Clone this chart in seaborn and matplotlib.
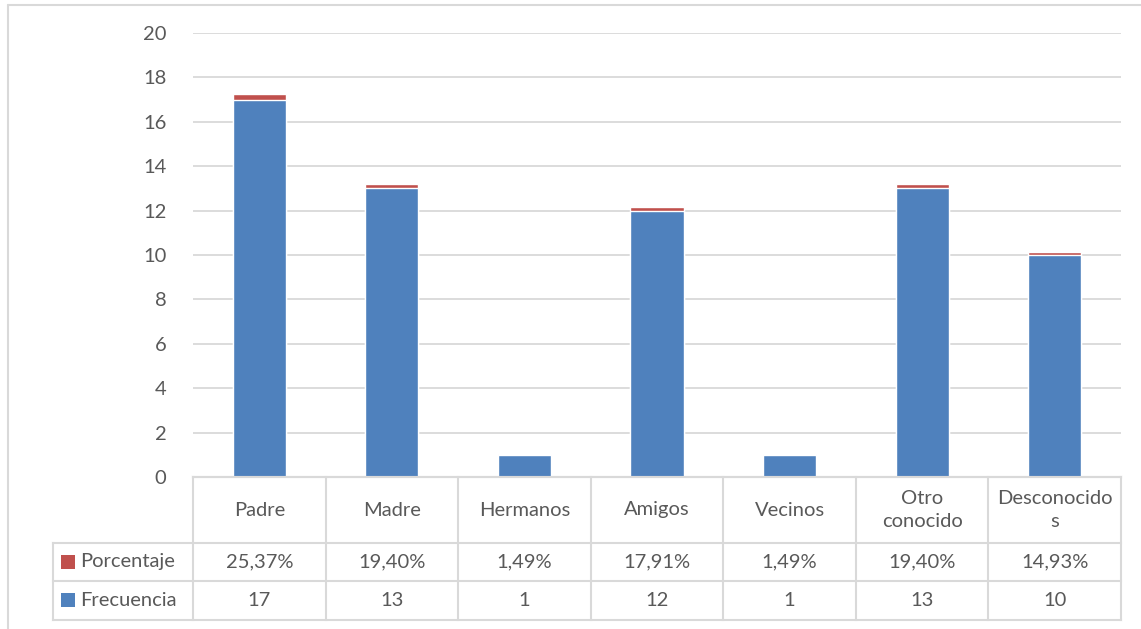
import matplotlib
matplotlib.use("Agg")
import matplotlib.pyplot as plt
import matplotlib.transforms as mtransforms
from matplotlib.lines import Line2D
from matplotlib.patches import Rectangle
import seaborn as sns
import pandas as pd

# Data
categories = ["Padre", "Madre", "Hermanos", "Amigos", "Vecinos", "Otro conocido", "Desconocidos"]
header_labels = ["Padre", "Madre", "Hermanos", "Amigos", "Vecinos", "Otro\nconocido", "Desconocido\ns"]
frecuencia = [17, 13, 1, 12, 1, 13, 10]
porcentaje = [0.2537, 0.1940, 0.0149, 0.1791, 0.0149, 0.1940, 0.1493]
series_names = ["Porcentaje", "Frecuencia"]
y_ticks = [0, 2, 4, 6, 8, 10, 12, 14, 16, 18, 20]

BLUE = "#4F81BD"
RED = "#C0504D"
GRID = "#D9D9D9"
TEXT = "#595959"
FS = 14.5

sns.set_theme(style="white")
plt.rcParams["font.family"] = ["Lato", "DejaVu Sans"]

W, H = 1141, 629
fig = plt.figure(figsize=(W / 100, H / 100), dpi=100)

# pixel helpers (origin top-left)
def fx(px):
    return px / W

def fy(py):
    return 1 - py / H

ax_left, ax_right, ax_top, ax_bottom = 193, 1121, 33, 477
ax = fig.add_axes([fx(ax_left), fy(ax_bottom), fx(ax_right - ax_left), (ax_bottom - ax_top) / H])

df = pd.DataFrame({
    "categoria": categories,
    "frecuencia": frecuencia,
    "porcentaje": porcentaje,
})
df["total"] = df["frecuencia"] + df["porcentaje"]

# stacked bars: full height in red, frequency part in blue on top
sns.barplot(data=df, x="categoria", y="total", color=RED, width=0.4, saturation=1, ax=ax, zorder=3)
sns.barplot(data=df, x="categoria", y="frecuencia", color=BLUE, width=0.4, saturation=1, ax=ax, zorder=4)

ax.set_xlim(-0.5, len(categories) - 0.5)
ax.set_ylim(0, 20)
ax.set_yticks(y_ticks)
ax.set_yticklabels([str(t) for t in y_ticks], fontsize=FS, color=TEXT)
ax.tick_params(axis="y", length=0, pad=19)
ax.set_xticks([])
ax.set_xlabel("")
ax.set_ylabel("")
ax.grid(axis="y", color=GRID, linewidth=1.3, zorder=0)
ax.set_axisbelow(True)
for s in ["top", "right", "left"]:
    ax.spines[s].set_visible(False)
ax.spines["bottom"].set_color(GRID)
ax.spines["bottom"].set_linewidth(1.5)
ax.spines["bottom"].set_zorder(5)

# data table below the plot
blend = mtransforms.blended_transform_factory(ax.transData, fig.transFigure)
row_lines = [477, 543, 581, 620]
legend_left = 53
n = len(categories)
line_kw = dict(color=GRID, linewidth=1.5, solid_capstyle="projecting")

# horizontal lines
fig.add_artist(Line2D([fx(ax_left), fx(ax_right)], [fy(477), fy(477)], **line_kw))
for py in row_lines[1:]:
    fig.add_artist(Line2D([fx(legend_left), fx(ax_right)], [fy(py), fy(py)], **line_kw))
# vertical lines
for i in range(n + 1):
    ax.add_artist(Line2D([i - 0.5, i - 0.5], [fy(477), fy(620)], transform=blend, clip_on=False, **line_kw))
fig.add_artist(Line2D([fx(legend_left), fx(legend_left)], [fy(543), fy(620)], **line_kw))

# header row with category names
for i, lab in enumerate(header_labels):
    ax.text(i, fy(510), lab, transform=blend, ha="center", va="center",
            fontsize=FS, color=TEXT, linespacing=1.45, clip_on=False)

# value rows
pct_text = [f"{p * 100:.2f}%".replace(".", ",") for p in porcentaje]
frec_text = [str(v) for v in frecuencia]
rows = [(series_names[0], RED, pct_text, 562), (series_names[1], BLUE, frec_text, 600)]
for name, col, texts, py in rows:
    for i, t in enumerate(texts):
        ax.text(i, fy(py), t, transform=blend, ha="center", va="center",
                fontsize=FS, color=TEXT, clip_on=False)
    fig.add_artist(Rectangle((fx(61), fy(py + 7)), fx(14), 14 / H, facecolor=col,
                             edgecolor="none", transform=fig.transFigure))
    fig.text(fx(80), fy(py), name, ha="left", va="center", fontsize=FS, color=TEXT)

# outer chart frame
fig.add_artist(Line2D([fx(8), 1], [fy(5), fy(5)], color=GRID, linewidth=1.5))
fig.add_artist(Line2D([fx(8), fx(8)], [fy(5), 0], color=GRID, linewidth=1.5))

fig.savefig("out.png", dpi=100, facecolor="white")
